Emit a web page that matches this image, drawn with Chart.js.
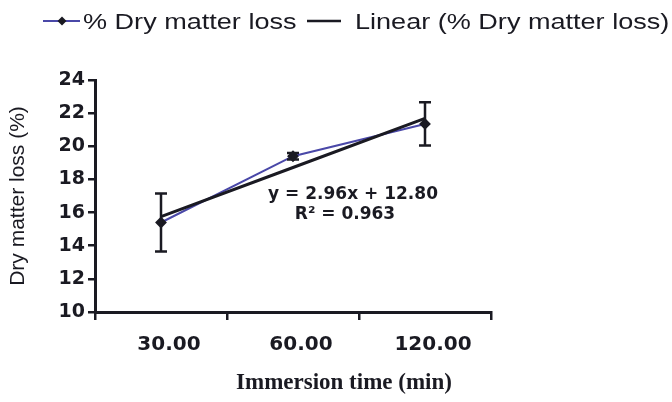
<!DOCTYPE html>
<html>
<head>
<meta charset="utf-8">
<script src="https://cdn.jsdelivr.net/npm/chart.js@4.4.0/dist/chart.umd.min.js"></script>
<style>
  html, body { margin: 0; padding: 0; background: #fff; }
  #wrap { width: 672px; height: 402px; position: relative; }
</style>
</head>
<body>
<div id="wrap"><canvas id="chart" width="672" height="402"></canvas></div>
<script>
// data
const categories = ['30.00', '60.00', '120.00'];
const dryMatterLoss = [15.4, 19.4, 21.35];
const errorBars = [1.75, 0.2, 1.3];
const linearFit = [15.76, 18.72, 21.68];
const yTicks = [10, 12, 14, 16, 18, 20, 22, 24];

const BLUE = '#4a48a8';
const INK = '#1a1a22';

// error bars on the first dataset
const errorBarPlugin = {
    id: 'errorBars',
    afterDatasetsDraw(chart) {
        const meta = chart.getDatasetMeta(0);
        const y = chart.scales.y;
        const ctx = chart.ctx;
        ctx.save();
        ctx.strokeStyle = INK;
        ctx.lineWidth = 2.5;
        meta.data.forEach((pt, i) => {
            const top = y.getPixelForValue(dryMatterLoss[i] + errorBars[i]);
            const bot = y.getPixelForValue(dryMatterLoss[i] - errorBars[i]);
            ctx.beginPath();
            ctx.moveTo(pt.x, top); ctx.lineTo(pt.x, bot);
            ctx.moveTo(pt.x - 6, top); ctx.lineTo(pt.x + 6, top);
            ctx.moveTo(pt.x - 6, bot); ctx.lineTo(pt.x + 6, bot);
            ctx.stroke();
        });
        ctx.restore();
    }
};

function stretchedText(ctx, text, x, y, sx) {
    ctx.save();
    ctx.translate(x, y);
    ctx.scale(sx, 1);
    ctx.fillText(text, 0, 0);
    ctx.restore();
}

// legend, equation and x title
const decorPlugin = {
    id: 'decor',
    afterDraw(chart) {
        const ctx = chart.ctx;
        ctx.save();
        // legend
        ctx.lineWidth = 2;
        ctx.strokeStyle = BLUE;
        ctx.beginPath(); ctx.moveTo(43, 21); ctx.lineTo(80, 21); ctx.stroke();
        ctx.fillStyle = INK;
        ctx.beginPath();
        ctx.moveTo(62, 16.5); ctx.lineTo(66.5, 21); ctx.lineTo(62, 25.5); ctx.lineTo(57.5, 21);
        ctx.closePath(); ctx.fill();
        ctx.lineWidth = 2.5;
        ctx.strokeStyle = INK;
        ctx.beginPath(); ctx.moveTo(307, 21); ctx.lineTo(341, 21); ctx.stroke();

        ctx.font = '22px "Liberation Sans", Arial, sans-serif';
        ctx.textBaseline = 'alphabetic';
        ctx.textAlign = 'left';
        stretchedText(ctx, '% Dry matter loss', 83, 29, 1.23);
        stretchedText(ctx, 'Linear (% Dry matter loss)', 355, 29, 1.23);

        // trend equation
        ctx.font = 'bold 17px "DejaVu Sans", sans-serif';
        ctx.textAlign = 'center';
        ctx.textBaseline = 'middle';
        ctx.fillText('y = 2.96x + 12.80', 353, 195);
        ctx.fillText('R\u00B2 = 0.963', 345, 215);

        // x axis title
        ctx.font = 'bold 23px "Liberation Serif", "Times New Roman", serif';
        ctx.fillText('Immersion time (min)', 344, 383);
        ctx.restore();
    }
};

new Chart(document.getElementById('chart'), {
    type: 'line',
    data: {
        labels: categories,
        datasets: [
            {
                label: '% Dry matter loss',
                data: dryMatterLoss,
                borderColor: BLUE,
                borderWidth: 2,
                pointStyle: 'rectRot',
                pointRadius: 4.5,
                pointBackgroundColor: INK,
                pointBorderColor: INK,
                tension: 0,
                order: 2
            },
            {
                label: 'Linear (% Dry matter loss)',
                data: linearFit,
                borderColor: INK,
                borderWidth: 3,
                pointRadius: 0,
                tension: 0,
                order: 1
            }
        ]
    },
    options: {
        responsive: false,
        animation: false,
        layout: { padding: { top: 80, right: 181, left: 0, bottom: 0 } },
        plugins: {
            legend: { display: false },
            tooltip: { enabled: false }
        },
        scales: {
            x: {
                offset: true,
                grid: { offset: true, drawOnChartArea: false, tickLength: 8, color: INK, lineWidth: 2.5 },
                border: { color: INK, width: 3 },
                ticks: {
                    color: INK,
                    font: { family: 'DejaVu Sans', size: 20, weight: 'bold' },
                    padding: 13,
                    labelOffset: 8
                },
                afterFit: (s) => { s.height = 90; }
            },
            y: {
                min: 10,
                max: 24,
                afterBuildTicks: (s) => { s.ticks = yTicks.map(v => ({ value: v })); },
                grid: { drawOnChartArea: false, tickLength: 7, color: INK, lineWidth: 2.5 },
                border: { color: INK, width: 3 },
                ticks: {
                    color: INK,
                    font: { family: 'DejaVu Sans', size: 19, weight: 'bold' },
                    padding: 3
                },
                title: {
                    display: true,
                    text: 'Dry matter loss (%)',
                    color: INK,
                    font: { family: 'Liberation Sans', size: 21 },
                    padding: { top: 6 }
                },
                afterFit: (s) => { s.width = 95; }
            }
        }
    },
    plugins: [errorBarPlugin, decorPlugin]
});
</script>
</body>
</html>
